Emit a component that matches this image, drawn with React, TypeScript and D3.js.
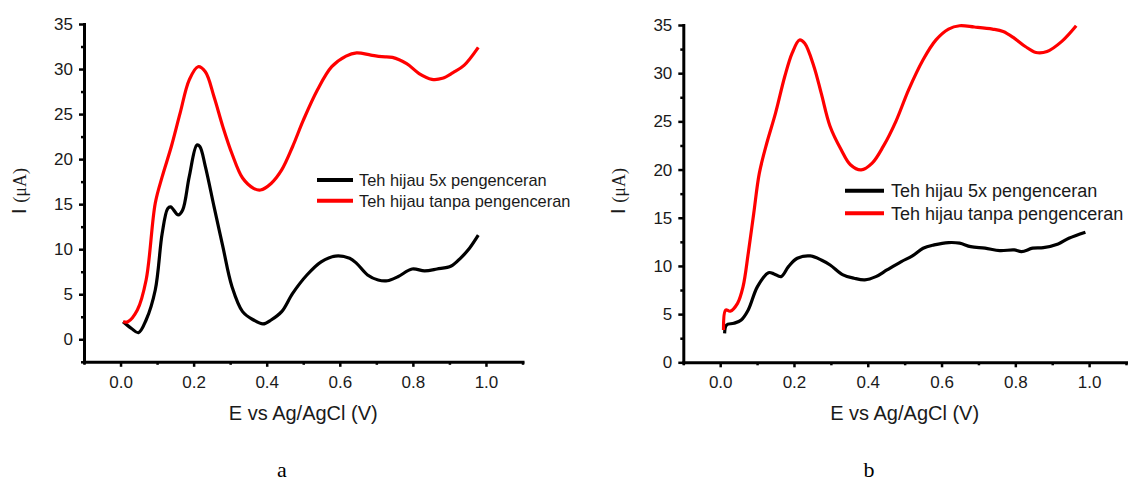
import React, { useEffect, useRef } from "react";
import * as d3 from "d3";

// ---------- DATA ----------
// Panel a
const A_BLACK_E = [0.007, 0.03, 0.049, 0.07, 0.095, 0.114, 0.129, 0.137, 0.158, 0.17, 0.188, 0.209, 0.217, 0.232, 0.256, 0.28, 0.305, 0.334, 0.364, 0.39, 0.412, 0.441, 0.471, 0.51, 0.549, 0.588, 0.627, 0.646, 0.676, 0.705, 0.73, 0.759, 0.798, 0.832, 0.866, 0.905, 0.93, 0.951, 0.979];
const A_BLACK_I = [1.95, 1.2, 0.73, 2.14, 5.47, 11.76, 14.5, 14.7, 13.8, 14.35, 18.05, 21.57, 21.4, 19.2, 14.7, 10.28, 5.84, 3.07, 2.14, 1.7, 2.14, 3.07, 5.1, 7.14, 8.6, 9.24, 8.99, 8.43, 7.14, 6.58, 6.5, 6.95, 7.8, 7.6, 7.8, 8.13, 8.99, 9.9, 11.57];
const A_RED_E = [0.007, 0.02, 0.046, 0.07, 0.095, 0.114, 0.139, 0.163, 0.188, 0.212, 0.232, 0.256, 0.28, 0.305, 0.334, 0.364, 0.383, 0.412, 0.441, 0.471, 0.5, 0.539, 0.578, 0.617, 0.646, 0.685, 0.715, 0.744, 0.783, 0.817, 0.852, 0.881, 0.91, 0.94, 0.979];
const A_RED_I = [1.95, 1.95, 3.25, 6.58, 15.1, 18.05, 21.4, 25.1, 28.8, 30.26, 29.7, 26.9, 23.6, 20.6, 17.9, 16.76, 16.57, 17.3, 18.8, 21.4, 24.3, 27.7, 30.26, 31.44, 31.8, 31.55, 31.37, 31.3, 30.6, 29.5, 28.86, 28.97, 29.6, 30.4, 32.4];

// Panel b
const B_BLACK_E = [0.012, 0.017, 0.037, 0.057, 0.076, 0.101, 0.131, 0.146, 0.165, 0.185, 0.209, 0.244, 0.274, 0.298, 0.333, 0.363, 0.392, 0.422, 0.452, 0.491, 0.521, 0.55, 0.58, 0.619, 0.649, 0.679, 0.718, 0.758, 0.797, 0.817, 0.847, 0.876, 0.916, 0.945, 0.99];
const B_BLACK_I = [3.0, 3.87, 4.05, 4.39, 5.43, 7.85, 9.3, 9.17, 8.89, 9.93, 10.8, 11.04, 10.62, 10.1, 9.07, 8.72, 8.55, 8.89, 9.58, 10.45, 11.04, 11.84, 12.18, 12.42, 12.36, 12.0, 11.84, 11.59, 11.66, 11.48, 11.84, 11.9, 12.28, 12.87, 13.5];
const B_RED_E = [0.009, 0.015, 0.027, 0.047, 0.062, 0.076, 0.091, 0.106, 0.126, 0.15, 0.175, 0.195, 0.215, 0.229, 0.254, 0.274, 0.298, 0.328, 0.353, 0.382, 0.412, 0.442, 0.476, 0.511, 0.55, 0.585, 0.619, 0.649, 0.689, 0.738, 0.767, 0.797, 0.827, 0.856, 0.886, 0.926, 0.965];
const B_RED_I = [3.35, 5.43, 5.3, 6.12, 7.85, 11.3, 15.47, 19.6, 22.7, 25.85, 29.65, 32.08, 33.45, 33.1, 30.7, 27.9, 24.47, 22.05, 20.5, 19.97, 20.67, 22.4, 24.98, 28.3, 31.4, 33.46, 34.58, 34.92, 34.79, 34.58, 34.33, 33.64, 32.77, 32.15, 32.25, 33.3, 34.92];

const X_TICKS = [0, 0.2, 0.4, 0.6, 0.8, 1.0];
const Y_TICKS = [0, 5, 10, 15, 20, 25, 30, 35];
const SERIES_NAMES = ["Teh hijau 5x pengenceran", "Teh hijau tanpa pengenceran"];
const SERIES_COLORS = ["#000000", "#ff0000"];
const X_TITLE = "E vs Ag/AgCl (V)";
const PANEL_LABELS = ["a", "b"];

const SANS = "'Liberation Sans', Arial, sans-serif";
const SERIF = "'Liberation Serif', 'DejaVu Serif', serif";

type PanelCfg = {
  x0: number; x1: number; yTop: number; yBot: number;
  yDomain: [number, number];
  series: { e: number[]; i: number[] }[];
  legend: { x1: number; x2: number; tx: number; y: number[]; size: number };
  yTitleX: number; label: string; labelX: number;
  tickFont: number;
};

function Panel({ cfg }: { cfg: PanelCfg }) {
  const ref = useRef<SVGGElement>(null);
  useEffect(() => {
    const g = d3.select(ref.current);
    g.selectAll("*").remove();
    const x = d3.scaleLinear().domain([-0.1, 1.1]).range([cfg.x0, cfg.x1]);
    const y = d3.scaleLinear().domain(cfg.yDomain).range([cfg.yBot, cfg.yTop]);

    const minorX = d3.range(-0.1, 1.1001, 0.2).map((v) => +v.toFixed(2));
    const minorY: number[] = [];
    for (let v = cfg.yDomain[0] < 0 ? -2.5 : 2.5; v < 35; v += 5) minorY.push(v);

    // minor ticks
    g.append("g")
      .attr("transform", `translate(0,${cfg.yBot})`)
      .call(d3.axisBottom(x).tickValues(minorX).tickSize(3).tickSizeOuter(0).tickFormat(() => ""))
      .call((s) => s.select(".domain").remove())
      .call((s) => s.selectAll("line").attr("stroke-width", 2.5));
    g.append("g")
      .attr("transform", `translate(${cfg.x0},0)`)
      .call(d3.axisLeft(y).tickValues(minorY).tickSize(3).tickSizeOuter(0).tickFormat(() => ""))
      .call((s) => s.select(".domain").remove())
      .call((s) => s.selectAll("line").attr("stroke-width", 2.5));

    // major axes
    const xa = g.append("g")
      .attr("transform", `translate(0,${cfg.yBot})`)
      .call(d3.axisBottom(x).tickValues(X_TICKS).tickSize(5).tickSizeOuter(0).tickPadding(9).tickFormat(d3.format(".1f")));
    const ya = g.append("g")
      .attr("transform", `translate(${cfg.x0},0)`)
      .call(d3.axisLeft(y).tickValues(Y_TICKS).tickSize(5).tickSizeOuter(0).tickPadding(6).tickFormat(d3.format("d")));
    [xa, ya].forEach((a) => {
      a.select(".domain").attr("stroke-width", 3).attr("stroke-linecap", "square");
      a.selectAll("line").attr("stroke-width", 2.5);
      a.selectAll("text").attr("font-size", cfg.tickFont).attr("font-family", SANS).attr("fill", "#1a1a1a");
    });

    // lines
    const line = d3.line<[number, number]>()
      .x((d) => x(d[0]))
      .y((d) => y(d[1]))
      .curve(d3.curveCatmullRom.alpha(0.5));
    cfg.series.forEach((s, k) => {
      const pts: [number, number][] = s.e.map((e, j) => [e, s.i[j]]);
      g.append("path")
        .attr("d", line(pts) as string)
        .attr("fill", "none")
        .attr("stroke", SERIES_COLORS[k])
        .attr("stroke-width", 3.2)
        .attr("stroke-linejoin", "round");
    });

    // legend
    SERIES_NAMES.forEach((name, k) => {
      g.append("line")
        .attr("x1", cfg.legend.x1).attr("x2", cfg.legend.x2)
        .attr("y1", cfg.legend.y[k]).attr("y2", cfg.legend.y[k])
        .attr("stroke", SERIES_COLORS[k]).attr("stroke-width", 4);
      g.append("text")
        .attr("x", cfg.legend.tx).attr("y", cfg.legend.y[k])
        .attr("dy", "0.36em")
        .attr("font-size", cfg.legend.size).attr("font-family", SANS).attr("fill", "#1a1a1a")
        .text(name);
    });

    // x title
    g.append("text")
      .attr("x", (cfg.x0 + cfg.x1) / 2).attr("y", 420)
      .attr("text-anchor", "middle")
      .attr("font-size", 20).attr("font-family", SANS).attr("fill", "#1a1a1a")
      .text(X_TITLE);

    // y title
    const yt = g.append("text")
      .attr("transform", `translate(${cfg.yTitleX},191) rotate(-90)`)
      .attr("text-anchor", "middle").attr("fill", "#1a1a1a");
    yt.append("tspan").attr("font-family", SANS).attr("font-size", 20).text("I ");
    yt.append("tspan").attr("font-family", SERIF).attr("font-size", 18).text("(\u03bcA)");

    // panel label
    g.append("text")
      .attr("x", cfg.labelX).attr("y", 477)
      .attr("text-anchor", "middle")
      .attr("font-size", 22).attr("font-family", SERIF).attr("fill", "#000")
      .text(cfg.label);
  }, [cfg]);
  return <g ref={ref} />;
}

const PANEL_A: PanelCfg = {
  x0: 84, x1: 522.5, yTop: 24, yBot: 361.8, yDomain: [-2.5, 35],
  series: [{ e: A_BLACK_E, i: A_BLACK_I }, { e: A_RED_E, i: A_RED_I }],
  legend: { x1: 317, x2: 353, tx: 359, y: [180, 200.7], size: 16.4 },
  yTitleX: 25.5, label: PANEL_LABELS[0], labelX: 282, tickFont: 17,
};
const PANEL_B: PanelCfg = {
  x0: 683.3, x1: 1126, yTop: 25, yBot: 362.3, yDomain: [0, 35],
  series: [{ e: B_BLACK_E, i: B_BLACK_I }, { e: B_RED_E, i: B_RED_I }],
  legend: { x1: 845, x2: 884, tx: 891, y: [190.7, 213.3], size: 18 },
  yTitleX: 625, label: PANEL_LABELS[1], labelX: 869, tickFont: 17,
};

export default function App() {
  return (
    <svg width={1129} height={484} style={{ position: "absolute", left: 0, top: 0, background: "#fff" }}>
      <rect width={1129} height={484} fill="#fff" />
      <Panel cfg={PANEL_A} />
      <Panel cfg={PANEL_B} />
    </svg>
  );
}
